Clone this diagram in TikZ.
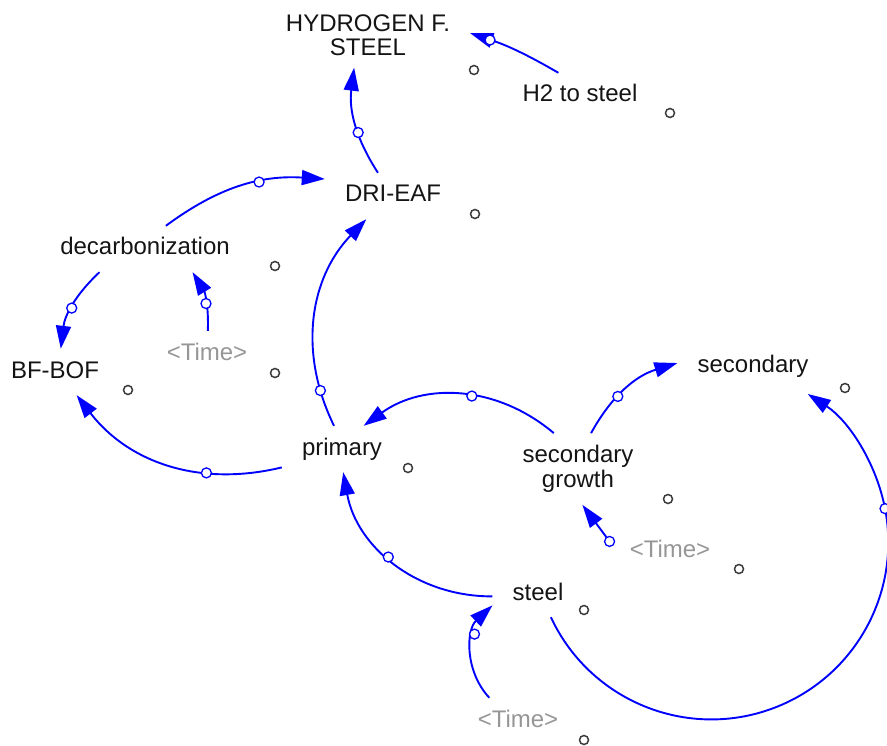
\documentclass[tikz,border=0pt]{standalone}
\usepackage{fontspec}
\setmainfont{Liberation Sans}
\usetikzlibrary{arrows.meta}
\definecolor{linkblue}{RGB}{0,0,255}
\definecolor{labelgray}{RGB}{150,150,150}
\definecolor{spotgray}{RGB}{60,60,60}
\definecolor{ink}{RGB}{20,20,20}
\tikzset{
  cell/.style={font=\fontsize{24}{24}\selectfont, text=ink, inner xsep=20pt},
  var/.style={cell, text height=17pt, text depth=5pt, inner ysep=12pt},
  var2/.style={cell, align=center, inner ysep=12pt},
  timevar/.style={var, text=labelgray},
  link/.style={draw=linkblue, line width=1.9pt, -{Triangle[length=23pt,width=15pt]}},
  handle/.style={circle, draw=linkblue, fill=white, line width=1.3pt, inner sep=0pt, minimum size=10pt},
  spot/.style={circle, draw=spotgray, line width=1.5pt, inner sep=0pt, minimum size=9pt},
}
\begin{document}
\begin{tikzpicture}[x=1pt,y=1pt]
\useasboundingbox (0,0) rectangle (887,-746);
% variables
\node[var2] (hydrogen) at (368,-35) {HYDROGEN F.\\STEEL};
\node[var] (h2steel) at (580,-96) {H2 to steel};
\node[var] (drieaf) at (393,-196) {DRI-EAF};
\node[var] (decarb) at (145,-249) {decarbonization};
\node[var] (bfbof) at (55,-372) {BF-BOF};
\node[timevar] (timeA) at (207,-354) {\textless Time\textgreater};
\node[var] (primary) at (342,-449) {primary};
\node[var2, font=\fontsize{24}{25}\selectfont] (secgrowth) at (578,-469) {secondary\\growth};
\node[var] (secondary) at (753,-367) {secondary};
\node[timevar] (timeB) at (670,-551) {\textless Time\textgreater};
\node[var] (steel) at (538,-594) {steel};
\node[timevar] (timeC) at (518,-721) {\textless Time\textgreater};

% small markers
\foreach \x/\y [count=\i] in {474/70, 670/113, 475/214, 275/266, 275/373, 128/390,
    408/468, 668/499, 739/569, 584/610, 584/740, 845/388}
  \node[spot] (spot\i) at (\x,-\y) {};

% links
\draw[link] (h2steel.133) to[bend right=6] node[handle,pos=0.8]{} (hydrogen.1);
\draw[link] (drieaf.123) to[bend left=20] node[handle,pos=0.4]{} (hydrogen.247);
\draw[link] (decarb.48) to[bend left=20] node[handle,pos=0.62]{} (drieaf.166);
\draw[link] (decarb.207) to[bend right=20] node[handle,pos=0.52]{} (bfbof.76);
\draw[link] (timeA.88) to[bend right=17] node[handle,pos=0.44]{} (decarb.334);
\draw[link] (primary.109) to[bend left=35] node[handle,pos=0.16]{} (drieaf.221);
\draw[link] (primary.197) to[bend left=33] node[handle,pos=0.32]{} (bfbof.313);
\draw[link] (secgrowth.124) to[bend right=38] node[handle,pos=0.44]{} (primary.47);
\draw[link] (steel.183) to[bend left=40] node[handle,pos=0.54]{} (primary.273);
\draw[link] (secgrowth.70) to[bend left=22] node[handle,pos=0.39]{} (secondary.177);
\draw[link] (timeB.171) -- node[handle,pos=0]{} (secgrowth.277);
\draw[link] (steel.299) arc[start angle=205, end angle=371, radius=177] node[handle]{}
  arc[start angle=371, end angle=417, radius=177];
\draw[link] (timeC.141) to[bend left=45] node[handle,pos=0.67]{} (steel.194);
\end{tikzpicture}
\end{document}
